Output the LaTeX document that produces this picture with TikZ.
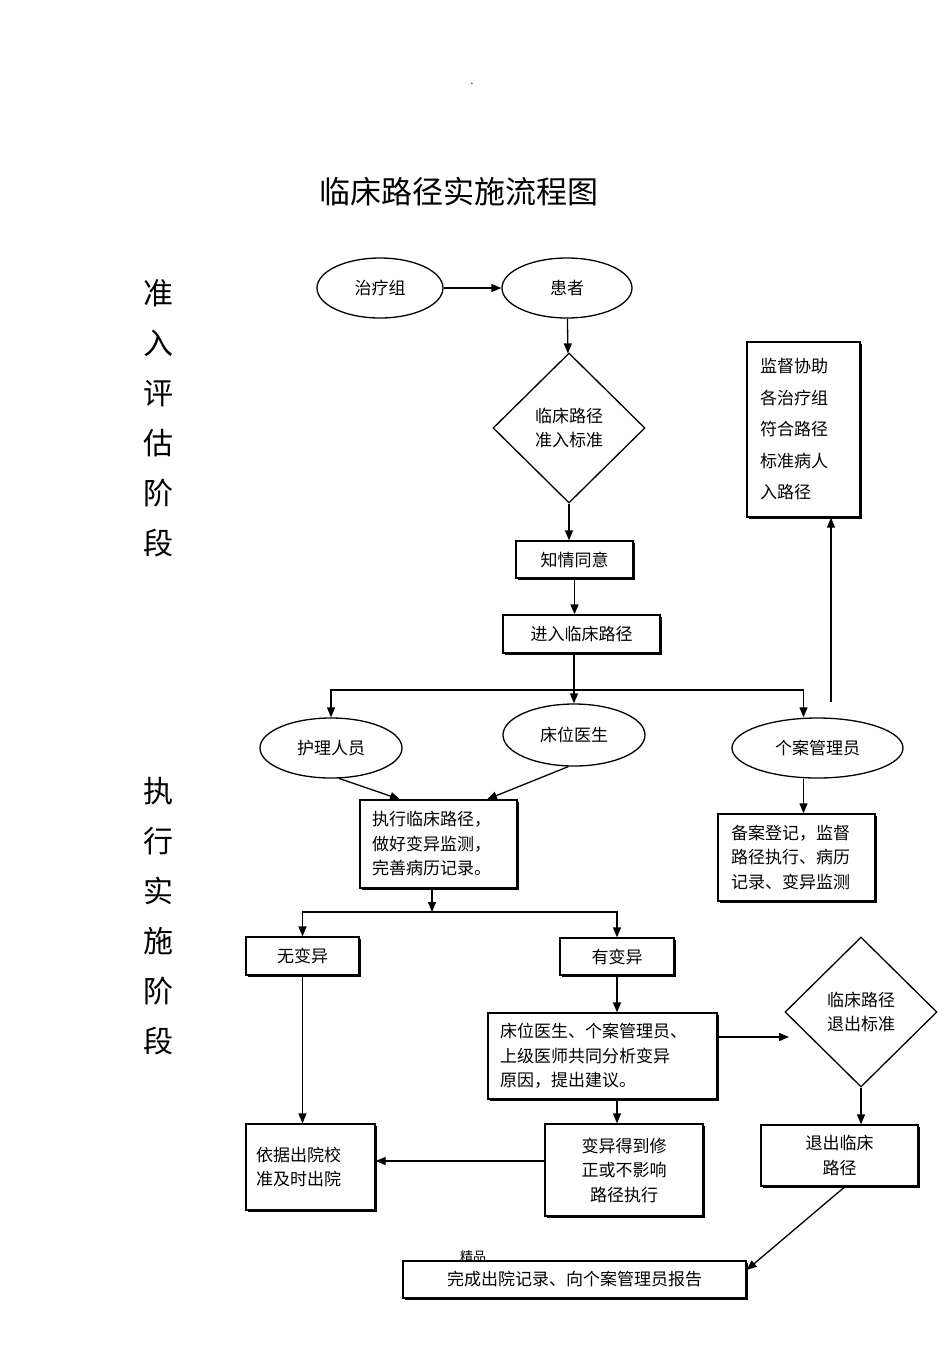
\documentclass[tikz,border=0pt]{standalone}
\usepackage{fontspec}
\setmainfont{Noto Sans CJK SC}
\usetikzlibrary{arrows.meta,shapes.geometric,shadows}

\begin{document}
\begin{tikzpicture}[x=1pt,y=-1pt,line width=1.3pt,
 body/.style={font=\fontsize{17}{24.5}\selectfont},
 box/.style={body,draw,fill=white,inner sep=0pt,align=center,
  drop shadow={shadow xshift=1.6pt,shadow yshift=-1.6pt,fill=black,opacity=1}},
 leftbox/.style={box,align=left,inner xsep=12pt},
 oval/.style={body,draw,ellipse,inner sep=0pt},
 choice/.style={body,draw,diamond,inner sep=0pt,align=left},
 stage/.style={font=\fontsize{30}{50}\selectfont,align=center},
 >={Triangle[length=10pt,width=8pt]}]
\useasboundingbox (0,0) rectangle (950,1345);
\node[font=\fontsize{10}{10}\selectfont,inner sep=0pt] (dot) at (472,84) {.};
\node (title) at (459,192) {\fontsize{31}{31}\selectfont 临床路径实施流程图};
\node[stage] (stage1) at (158,418) {准\\入\\评\\估\\阶\\段};
\node[stage] (stage2) at (158,916) {执\\行\\实\\施\\阶\\段};

% admission stage
\node[oval,minimum width=126pt,minimum height=60pt] (team) at (380,288) {治疗组};
\node[oval,minimum width=130pt,minimum height=60pt] (patient) at (567,288) {患者};
\node[choice,minimum width=152pt,minimum height=150pt] (admit) at (569,428) {临床路径\\准入标准};
\node[box,minimum width=117pt,minimum height=37pt] (consent) at (574.5,559.5) {知情同意};
\node[box,minimum width=157pt,minimum height=38pt] (enter) at (581.5,634) {进入临床路径};
\node[leftbox,text width=87pt,inner xsep=13pt,minimum height=175pt,font=\fontsize{17}{31.5}\selectfont] (supervise) at (803.5,429.5) {监督协助\\各治疗组\\符合路径\\标准病人\\入路径};

% execution stage
\node[oval,minimum width=142pt,minimum height=60pt] (nurse) at (331,748) {护理人员};
\node[oval,minimum width=142pt,minimum height=62pt] (bedside) at (574,735) {床位医生};
\node[oval,minimum width=171pt,minimum height=60pt] (manager) at (817.5,748) {个案管理员};
\node[leftbox,text width=133pt,minimum height=88pt] (exec) at (438.5,844) {执行临床路径，\\做好变异监测，\\完善病历记录。};
\node[leftbox,text width=131pt,inner xsep=13pt,minimum height=87pt] (record) at (796.5,857.5) {备案登记，监督\\路径执行、病历\\记录、变异监测};
\node[box,minimum width=113pt,minimum height=38pt] (novar) at (302.5,956) {无变异};
\node[box,minimum width=114pt,minimum height=37pt] (hasvar) at (617,956.5) {有变异};
\node[leftbox,text width=205pt,minimum height=86pt] (analysis) at (602.5,1056) {床位医生、个案管理员、\\上级医师共同分析变异\\原因，提出建议。};
\node[choice,minimum width=152pt,minimum height=150pt] (quit) at (861,1012) {临床路径\\退出标准};
\node[box,minimum width=158pt,minimum height=92pt] (fixed) at (624,1170) {变异得到修\\正或不影响\\路径执行};
\node[leftbox,text width=109pt,inner xsep=10pt,minimum height=86pt] (discharge) at (310.5,1167) {依据出院校\\准及时出院};
\node[box,minimum width=157pt,minimum height=61pt] (exitbox) at (839.5,1155.5) {退出临床\\路径};
\node[box,minimum width=343pt,minimum height=37pt] (final) at (574.5,1279.5) {完成出院记录、向个案管理员报告};
\node[font=\fontsize{13}{13}\selectfont,inner sep=0pt] (mark) at (473,1257) {精品};

% connectors
\coordinate (split1) at (574,690);
\coordinate (split2) at (432,912);
\coordinate (up) at (831,702);
\coordinate (quitin) at (789,1037);
\draw[->] (team)--(patient);
\draw[->] (patient)--(admit);
\draw[->] (admit.south)--(admit.south |- consent.north);
\draw[->] (consent)--(consent |- enter.north);
\draw (enter.south -| split1)--(split1);
\draw[->] (split1)-|(nurse);
\draw[->] (split1)--(bedside);
\draw[->] (split1)-|([xshift=-14pt]manager.north);
\draw[->] (up)--(up |- supervise.south);
\draw[->] ([xshift=-14pt]manager.south)--([xshift=-14pt]manager.south |- record.north);
\draw[->] (nurse.-75)--([xshift=-38.5pt]exec.north);
\draw[->] (bedside.-100)--([xshift=48.5pt]exec.north);
\draw[->] (exec.south -| split2)--(split2);
\draw[->] (split2)-|(novar);
\draw[->] (split2)-|(hasvar);
\draw[->] (hasvar)--(hasvar |- analysis.north);
\draw[->] (analysis.east |- quitin)--(quitin);
\draw[->] (hasvar |- analysis.south)--(hasvar |- fixed.north);
\draw[->] ([yshift=9pt]fixed.west)--([yshift=9pt]fixed.west -| discharge.east);
\draw[->] (novar)--(novar |- discharge.north);
\draw[->] (quit.south)--(quit.south |- exitbox.north);
\draw[->] ([xshift=5.5pt]exitbox.south)--([yshift=9.5pt]final.east);
\end{tikzpicture}
\end{document}
